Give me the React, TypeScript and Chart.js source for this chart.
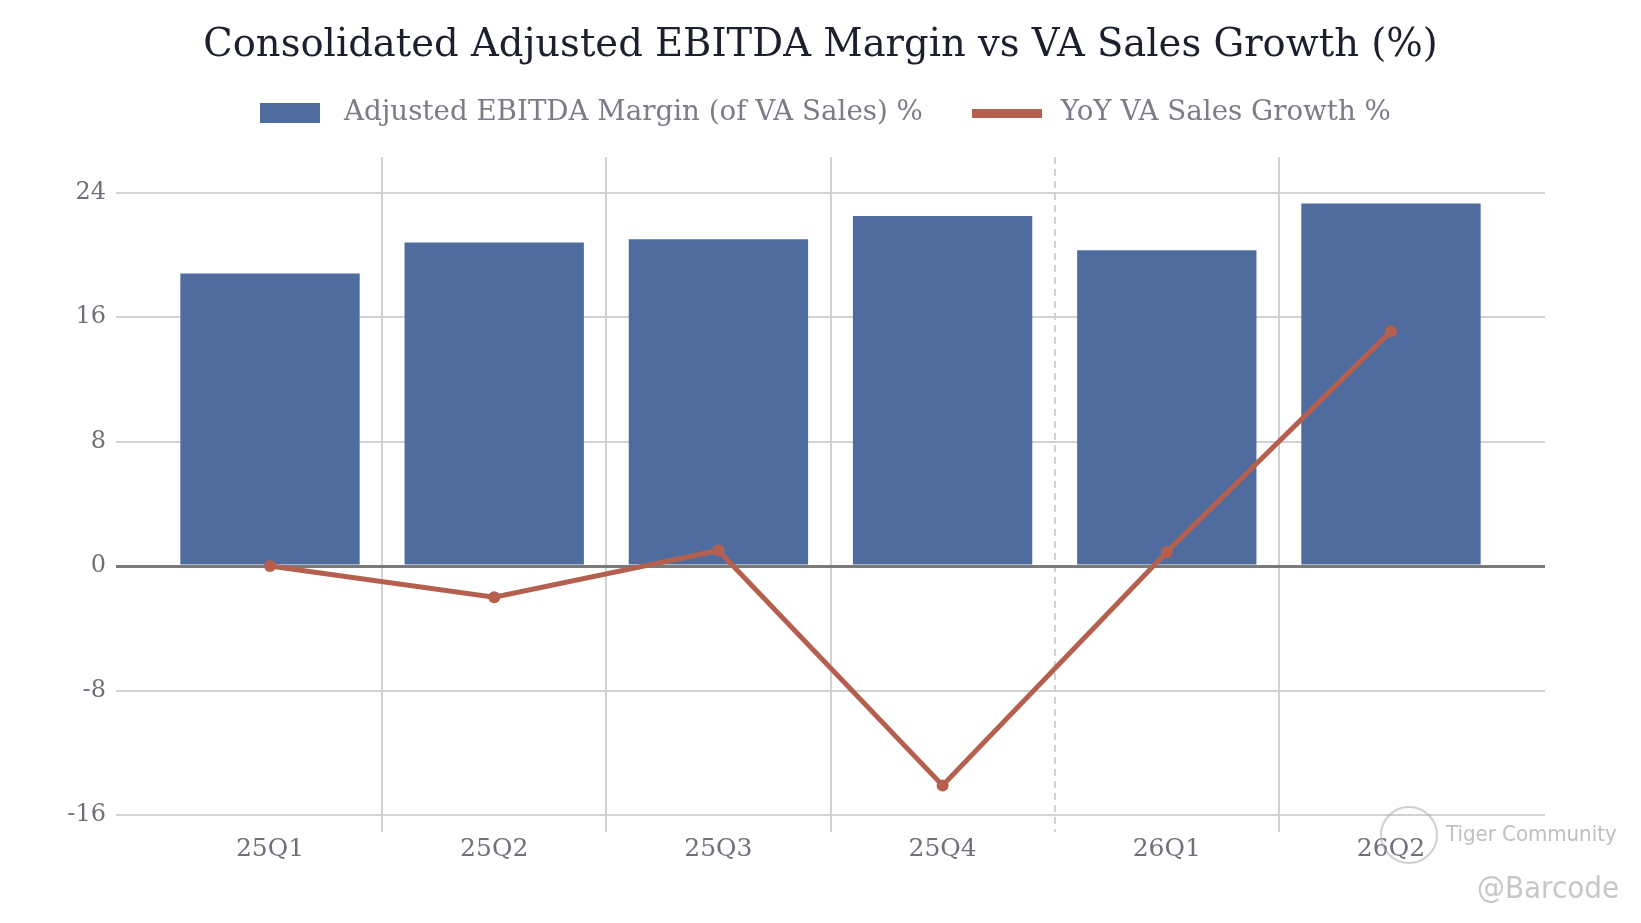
import React, { useEffect, useRef } from "react";
import { Chart, registerables } from "chart.js";

Chart.register(...registerables);

// ---- data ----
const categories = ["25Q1", "25Q2", "25Q3", "25Q4", "26Q1", "26Q2"];
const ebitdaMargin = [18.8, 20.8, 21.0, 22.5, 20.3, 23.3];
const vaSalesGrowth = [0.0, -2.0, 1.0, -14.1, 0.9, 15.1];
const yMin = -16;
const yMax = 26.3;
const yStep = 8;
const dashedDividerAfter = 3; // dashed divider between 25Q4 and 26Q1

const titleText = "Consolidated Adjusted EBITDA Margin vs VA Sales Growth (%)";
const barLabel = "Adjusted EBITDA Margin (of VA Sales) %";
const lineLabel = "YoY VA Sales Growth %";

// ---- styles ----
const BAR_COLOR = "#506c9e";
const LINE_COLOR = "#b5604f";
const GRID_COLOR = "#d2d2d2";
const ZERO_COLOR = "#7a7a7a";
const TICK_COLOR = "#70707a";
const FONT = "'DejaVu Serif', serif";

function swatch(w: number, h: number, color: string) {
  const c = document.createElement("canvas");
  c.width = w;
  c.height = h;
  const g = c.getContext("2d")!;
  g.fillStyle = color;
  g.fillRect(0, 0, w, h);
  return c;
}

const verticalGrid = {
  id: "verticalGrid",
  beforeDraw(chart: any) {
    const { ctx, chartArea, scales } = chart;
    const x = scales.x;
    ctx.save();
    ctx.lineWidth = 2;
    ctx.strokeStyle = GRID_COLOR;
    for (let i = 0; i < categories.length - 1; i++) {
      const px = Math.round(x.getPixelForValue(i + 0.5));
      ctx.beginPath();
      ctx.setLineDash(i === dashedDividerAfter ? [7, 5] : []);
      ctx.moveTo(px, chartArea.top);
      ctx.lineTo(px, chartArea.bottom + 17);
      ctx.stroke();
    }
    ctx.restore();
  },
};

const legendGap = {
  id: "legendGap",
  beforeInit(chart: any) {
    const legend = chart.legend;
    if (!legend) return;
    const orig = legend.fit;
    legend.fit = function () {
      orig.call(this);
      this.height += 20;
    };
  },
};

export default function App() {
  const ref = useRef<HTMLCanvasElement>(null);

  useEffect(() => {
    if (!ref.current) return;
    const barSw = swatch(60, 20, BAR_COLOR);
    const lineSw = swatch(70, 9, LINE_COLOR);

    const chart = new Chart(ref.current, {
      type: "bar",
      data: {
        datasets: [
          {
            type: "bar",
            label: barLabel,
            data: categories.map((_, i) => ({ x: i, y: ebitdaMargin[i] })),
            backgroundColor: BAR_COLOR,
            borderWidth: 0,
            barPercentage: 0.8,
            categoryPercentage: 1,
            order: 1,
          },
          {
            type: "line",
            label: lineLabel,
            data: categories.map((_, i) => ({ x: i, y: vaSalesGrowth[i] })),
            borderColor: LINE_COLOR,
            backgroundColor: LINE_COLOR,
            borderWidth: 5,
            pointRadius: 6,
            pointBackgroundColor: LINE_COLOR,
            pointBorderWidth: 0,
            tension: 0,
            order: 0,
          } as any,
        ],
      },
      options: {
        animation: false,
        responsive: true,
        maintainAspectRatio: false,
        devicePixelRatio: 1,
        layout: { padding: 0 },
        plugins: {
          tooltip: { enabled: false },
          title: {
            display: true,
            text: titleText,
            color: "#1c202d",
            font: { family: FONT, size: 38.5, weight: "normal", lineHeight: 1.2 },
            padding: { top: 23, bottom: -14 },
          },
          legend: {
            display: true,
            labels: {
              usePointStyle: true,
              pointStyleWidth: 80,
              boxHeight: 28,
              padding: 44,
              color: "#7b7d86",
              font: { family: FONT, size: 27.7 },
              sort: (a: any, b: any) => a.datasetIndex - b.datasetIndex,
              generateLabels: (c: any) => {
                const items = (Chart.defaults as any).plugins.legend.labels.generateLabels(c);
                items.forEach((it: any) => {
                  it.pointStyle = it.datasetIndex === 0 ? barSw : lineSw;
                });
                return items;
              },
            },
          },
        },
        scales: {
          x: {
            type: "linear",
            offset: false,
            min: -0.687,
            max: categories.length - 1 + 0.687,
            afterBuildTicks: (s: any) => {
              s.ticks = categories.map((_, i) => ({ value: i }));
            },
            afterFit: (s: any) => {
              s.height = 108;
            },
            grid: { display: false },
            border: { display: false },
            ticks: {
              color: TICK_COLOR,
              font: { family: FONT, size: 25 },
              padding: 11,
              autoSkip: false,
              maxRotation: 0,
              callback: (v: any) => categories[Math.round(Number(v))] ?? "",
            },
          },
          y: {
            type: "linear",
            min: yMin,
            max: yMax,
            afterFit: (s: any) => {
              s.width = 116;
            },
            border: { display: false },
            grid: {
              drawTicks: false,
              color: (ctx: any) => (ctx.tick && ctx.tick.value === 0 ? ZERO_COLOR : GRID_COLOR),
              lineWidth: (ctx: any) => (ctx.tick && ctx.tick.value === 0 ? 3 : 2),
            },
            ticks: {
              stepSize: yStep,
              includeBounds: false,
              color: TICK_COLOR,
              padding: 10,
              font: { family: FONT, size: 24 },
            },
          },
          yRightSpace: {
            type: "linear",
            position: "right",
            display: true,
            grid: { display: false, drawTicks: false },
            border: { display: false },
            ticks: { display: false },
            afterFit: (s: any) => {
              s.width = 96;
            },
          },
        },
      },
      plugins: [verticalGrid, legendGap],
    } as any);

    return () => chart.destroy();
  }, []);

  return (
    <div
      style={{
        position: "absolute",
        left: 0,
        top: 0,
        width: 1641,
        height: 923,
        background: "#ffffff",
        overflow: "hidden",
      }}
    >
      <canvas ref={ref} />
      <div
        style={{
          position: "absolute",
          left: 1380,
          top: 806,
          width: 54,
          height: 54,
          borderRadius: "50%",
          border: "2px solid rgba(170,170,170,0.55)",
        }}
      />
      <div
        style={{
          position: "absolute",
          left: 1446,
          top: 821,
          fontFamily: "'Liberation Sans Narrow', 'DejaVu Sans Condensed', sans-serif",
          fontSize: 22,
          color: "rgba(175,175,175,0.8)",
          whiteSpace: "nowrap",
        }}
      >
        Tiger Community
      </div>
      <div
        style={{
          position: "absolute",
          left: 1477,
          top: 869,
          fontFamily: "'Liberation Sans Narrow', 'DejaVu Sans Condensed', sans-serif",
          fontSize: 31,
          color: "rgba(185,185,185,0.8)",
          whiteSpace: "nowrap",
        }}
      >
        @Barcode
      </div>
    </div>
  );
}
